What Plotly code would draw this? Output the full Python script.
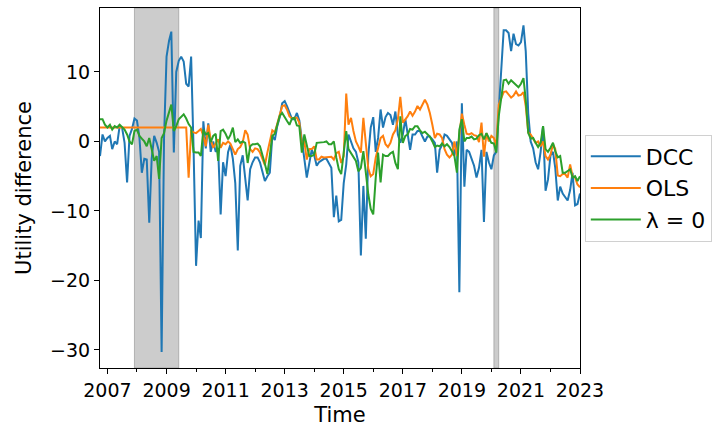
import pandas as pd
import plotly.graph_objects as go

# Monthly observations, Oct 2006 - Jan 2023
dates = pd.date_range("2006-10-01", periods=196, freq="MS")

dcc = [
    -2.1, 1.0, 0.0, 0.5, 0.8, -1.1, 0.0, -0.4, 2.2, 2.0,
    -0.2, -5.9, 0.8, 1.8, 3.3, 3.0, 0.5, -4.5, -2.5, -2.6,
    -11.7, -2.5, 0.8, -0.2, -1.5, -30.3, 0.5, 12.2, 14.5, 15.8,
    -1.6, 10.0, 11.6, 12.2, 11.5, 8.3, 7.9, 12.2, -1.0, -17.9,
    -11.4, -13.9, 2.9, -1.0, 2.6, -1.5, 0.0, -1.5, -1.0, -10.5,
    -3.0, -5.0, -1.5, -0.5, -2.5, -6.0, -15.7, -3.5, -2.0, -5.0,
    -8.5, -4.0, -3.0, -2.3, -2.3, -3.0, -4.5, -5.7, -5.0, -4.5,
    0.8, 0.2, 2.2, 3.5, 5.5, 5.8, 5.0, 4.0, 3.2, 3.2,
    4.1, 3.0, 0.5, -2.5, -5.2, -3.0, -1.2, -2.0, -3.5, -3.0,
    -2.8, -2.5, -2.5, -3.2, -3.8, -10.9, -7.8, -11.5, -11.3, -6.0,
    -3.3, 1.0, -0.2, -1.0, -1.5, -3.0, -16.4, -6.4, -14.0, -2.0,
    2.0, 3.5, -1.5, 0.5, 4.6, 2.0, 3.5, 4.1, 3.8, 2.4,
    4.3, 1.0, -0.2, 1.0, 3.2, 1.2, -1.2, 1.0, 1.0, 1.5,
    1.5, 0.7, 0.0, 0.7, 0.7, 0.3, -0.2, -4.5, -1.2, -0.5,
    1.0, 0.8, 0.3, -0.2, -2.0, 0.0, -21.7, 5.5, -6.5, -1.2,
    -1.5, -2.5, -3.5, -5.2, -3.8, -1.2, -11.6, -1.5, -3.0, -4.0,
    -2.0, -1.5, 4.6, 11.0, 16.0, 16.0, 15.6, 13.0, 15.5, 14.0,
    13.8, 14.3, 16.7, 13.0, 4.0, 0.0, -1.0, -3.0, -4.0, -1.5,
    2.2, -7.1, -5.5, -2.0, -1.5, -3.8, -8.5, -6.5, -7.5, -8.0,
    -8.5, -7.0, -4.5, -9.2, -9.0, -7.5,
]

ols = [
    2.0, 2.0, 2.0, 2.0, 2.0, 2.0, 2.0, 2.0, 2.0, 2.0,
    2.0, 2.0, 2.0, 2.0, 2.0, 2.0, 2.0, 2.0, 2.0, 2.0,
    2.0, 2.0, 2.0, 2.0, 2.0, 2.0, 2.0, 2.0, 2.0, 2.0,
    2.0, 2.0, 2.0, 2.0, 2.0, 2.0, -5.2, 1.5, 1.3, 1.2,
    1.5, 1.8, 0.8, -0.7, 2.4, 0.3, -0.9, -0.2, 0.3, -0.9,
    -0.2, -0.4, 0.0, -0.3, -1.1, -1.9, -1.1, -0.8, -0.1, 1.6,
    1.0, -1.1, -1.5, -1.0, -1.1, -1.6, -2.5, -3.4, -1.6, 0.0,
    1.6, 1.3, 2.6, 3.9, 5.1, 5.2, 4.5, 3.6, 3.3, 3.4,
    3.4, 2.7, -0.2, 0.0, -2.6, -1.1, -1.1, -0.7, -2.6, -2.6,
    -2.2, -2.3, -2.3, -2.3, -2.2, -2.6, -1.7, -1.5, -3.1, -2.1,
    6.9, 2.4, 3.4, 1.5, 0.0, -0.7, -1.6, 3.4, -0.7, -3.9,
    -5.0, -4.7, -2.3, -1.1, 0.5, 0.8, -0.4, -0.8, -0.2, 1.0,
    1.6, 3.2, 6.4, 2.7, 3.2, 3.6, 4.3, 3.7, 4.3, 5.1,
    4.6, 5.4, 6.0, 5.3, 4.1, 2.4, 0.5, 1.1, 1.0, 0.5,
    -1.1, -1.9, -2.3, -1.9, 0.0, -2.1, 0.8, 4.0, 2.4, 1.1,
    1.0, 1.2, 0.9, 0.8, -0.1, 2.7, -2.2, 1.2, 0.0, 0.8,
    0.5, -0.7, 5.3, 6.1, 7.1, 7.2, 6.8, 6.3, 6.6, 7.2,
    6.6, 6.7, 7.1, 5.1, 1.3, 1.0, 0.4, -0.2, 0.0, -0.7,
    0.0, -2.1, -2.6, -1.9, -0.4, -1.1, -4.9, -5.0, -4.7, -4.7,
    -5.2, -3.3, -5.0, -5.2, -6.2, -6.6,
]

lam0 = [
    3.2, 3.2, 2.4, 2.0, 2.4, 1.7, 2.2, 2.0, 2.4, 2.1,
    1.7, 1.0, 0.0, -0.4, 1.5, 1.7, 0.8, 0.4, 0.0, -0.7,
    0.5, -1.1, -2.8, -2.1, -5.4, 0.5, 1.2, 3.0, 4.2, 5.3,
    1.5, 2.2, 3.2, 3.6, 3.9, 3.3, 2.5, 2.0, -1.5, -1.6,
    -1.6, -2.1, 1.7, 1.0, 1.2, -0.1, 0.8, 1.1, -2.8, 1.5,
    1.7, 1.1, 0.3, 0.9, 2.0, -0.1, 0.3, -0.2, 0.0, -0.2,
    -3.1, -0.7, -0.4, -0.4, -0.3, -0.7, -1.9, -3.2, -4.7, -2.3,
    0.8, 1.1, 2.4, 3.7, 4.1, 3.4, 2.9, 2.4, 3.3, 3.4,
    2.3, 2.2, -1.6, 1.0, -0.7, -2.1, -2.1, -1.9, -0.2, -0.2,
    -0.2, -0.1, 0.0, -0.4, -0.4, 0.0, -2.3, -4.0, -4.7, -1.6,
    1.5, -1.1, -1.7, -2.1, -2.8, -4.3, -3.8, -1.4, -5.0, -7.6,
    -9.7, -10.5, -5.2, -1.6, -5.9, -1.9, -2.1, -2.1, -1.7, -1.5,
    -3.1, -4.0, 3.6, -0.2, 0.8, 1.0, 1.8, 1.7, 2.2, 2.2,
    1.6, 1.2, 1.4, 1.0, 0.7, 0.0, -0.8, -0.6, -0.7, -0.3,
    -0.7, -0.4, -0.8, -1.4, -2.1, -4.5, 1.7, 3.2, 0.0, 0.5,
    0.5, 0.7, 0.3, 0.4, 0.9, 1.1, 0.3, 1.2, 0.5, -0.2,
    -0.3, -1.6, 3.6, 6.5, 8.8, 8.9, 8.3, 8.8, 8.5, 8.2,
    7.8, 8.3, 9.1, 6.0, 1.2, 0.4, 0.5, -0.2, -0.8, -0.2,
    2.2, -1.1, -1.5, -0.9, -0.2, -1.4, -2.3, -2.1, -4.5, -4.5,
    -4.3, -4.0, -5.2, -5.0, -5.7, -5.0,
]

# Recession periods (NBER)
recessions = [("2007-12-01", "2009-06-01"), ("2020-02-01", "2020-04-01")]

series = [
    ("DCC", dcc, "#1f77b4"),
    ("OLS", ols, "#ff7f0e"),
    ("λ = 0", lam0, "#2ca02c"),
]

fig = go.Figure()
for name, vals, color in series:
    fig.add_trace(go.Scatter(
        x=dates, y=vals, mode="lines", name=name,
        line=dict(color=color, width=2),
    ))

for start, end in recessions:
    fig.add_vrect(
        x0=start, x1=end, layer="below",
        fillcolor="rgba(128,128,128,0.4)",
        line=dict(color="rgba(128,128,128,0.5)", width=1),
    )

font = "DejaVu Sans, Arial, sans-serif"
fig.update_layout(
    width=720, height=427,
    margin=dict(l=100, r=140, t=8, b=59, autoexpand=False),
    paper_bgcolor="white", plot_bgcolor="white",
    font=dict(family=font, size=19, color="black"),
    showlegend=True,
    legend=dict(
        x=1.01, y=0.5, xanchor="left", yanchor="middle",
        bordercolor="#d0d0d0", borderwidth=1,
        font=dict(size=22), tracegroupgap=0, itemwidth=50,
    ),
)
fig.update_xaxes(
    range=["2006-10-01", "2023-01-01"],
    tick0="2007-01-01", dtick="M24", tickformat="%Y",
    ticks="outside", ticklen=5, tickwidth=1, tickcolor="black",
    minor=dict(dtick="M12", tick0="2007-01-01", ticks="outside",
               ticklen=3, tickcolor="black"),
    showline=True, linecolor="black", linewidth=1, mirror=True,
    showgrid=False, zeroline=False, automargin=False,
    title=dict(text="Time", standoff=12, font=dict(size=21)),
    tickfont=dict(size=19),
)
fig.update_yaxes(
    range=[-32.6, 19.2],
    tickvals=[-30, -20, -10, 0, 10],
    ticktext=["\u221230", "\u221220", "\u221210", "0", "10"],
    ticks="outside", ticklen=5, tickwidth=1, tickcolor="black",
    showline=True, linecolor="black", linewidth=1, mirror=True,
    showgrid=False, zeroline=False, automargin=False,
    title=dict(text="Utility difference", standoff=12, font=dict(size=21)),
    tickfont=dict(size=19),
)

fig.write_html("out.html")
